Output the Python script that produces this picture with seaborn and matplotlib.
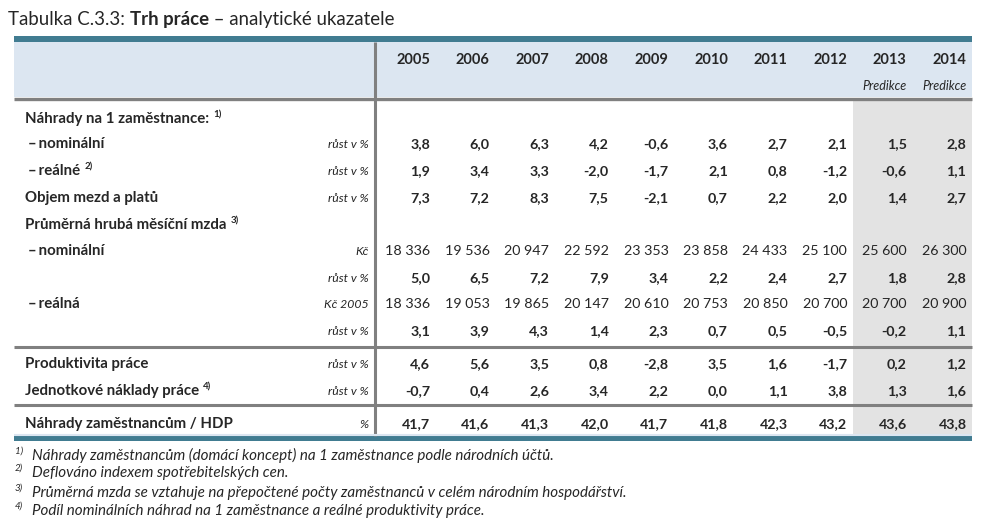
import numpy as np
import pandas as pd
import seaborn as sns
import matplotlib.pyplot as plt
from matplotlib.colors import ListedColormap

# ---- data ----
years = [2005, 2006, 2007, 2008, 2009, 2010, 2011, 2012, 2013, 2014]
is_prediction = [0, 0, 0, 0, 0, 0, 0, 0, 1, 1]

nahrady_nom = [3.8, 6.0, 6.3, 4.2, -0.6, 3.6, 2.7, 2.1, 1.5, 2.8]
nahrady_real = [1.9, 3.4, 3.3, -2.0, -1.7, 2.1, 0.8, -1.2, -0.6, 1.1]
objem_mezd = [7.3, 7.2, 8.3, 7.5, -2.1, 0.7, 2.2, 2.0, 1.4, 2.7]
mzda_nom_kc = [18336, 19536, 20947, 22592, 23353, 23858, 24433, 25100, 25600, 26300]
mzda_nom_rust = [5.0, 6.5, 7.2, 7.9, 3.4, 2.2, 2.4, 2.7, 1.8, 2.8]
mzda_real_kc = [18336, 19053, 19865, 20147, 20610, 20753, 20850, 20700, 20700, 20900]
mzda_real_rust = [3.1, 3.9, 4.3, 1.4, 2.3, 0.7, 0.5, -0.5, -0.2, 1.1]
produktivita = [4.6, 5.6, 3.5, 0.8, -2.8, 3.5, 1.6, -1.7, 0.2, 1.2]
jednotkove_naklady = [-0.7, 0.4, 2.6, 3.4, 2.2, 0.0, 1.1, 3.8, 1.3, 1.6]
nahrady_hdp = [41.7, 41.6, 41.3, 42.0, 41.7, 41.8, 42.3, 43.2, 43.6, 43.8]

# (label, superscript, indent, unit, values)
rows = [
    ("Náhrady na 1 zaměstnance:", "1)", False, "", None),
    ("–\u2009nominální", "", True, "růst v %", nahrady_nom),
    ("–\u2009reálné", "2)", True, "růst v %", nahrady_real),
    ("Objem mezd a platů", "", False, "růst v %", objem_mezd),
    ("Průměrná hrubá měsíční mzda", "3)", False, "", None),
    ("–\u2009nominální", "", True, "Kč", mzda_nom_kc),
    ("", "", True, "růst v %", mzda_nom_rust),
    ("–\u2009reálná", "", True, "Kč 2005", mzda_real_kc),
    ("", "", True, "růst v %", mzda_real_rust),
    ("Produktivita práce", "", False, "růst v %", produktivita),
    ("Jednotkové náklady práce", "4)", False, "růst v %", jednotkove_naklady),
    ("Náhrady zaměstnancům / HDP", "", False, "%", nahrady_hdp),
]

footnotes = [
    "Náhrady zaměstnancům (domácí koncept) na 1 zaměstnance podle národních účtů.",
    "Deflováno indexem spotřebitelských cen.",
    "Průměrná mzda se vztahuje na přepočtené počty zaměstnanců v celém národním hospodářství.",
    "Podíl nominálních náhrad na 1 zaměstnance a reálné produktivity práce.",
]

# ---- layout (pixels) ----
W, H = 994, 523
left, right = 14, 972
sep_x = 375
col_right = [430 + 59.6 * i for i in range(len(years))]
row_base = [123, 148, 175, 202, 229, 255, 282, 308, 335, 368, 395, 428]
teal = "#417c91"
head_fill = "#dce6f1"
line_gray = "#808080"

sns.set_theme(style="white")
plt.rcParams["font.family"] = ["Lato", "DejaVu Sans"]

fig = plt.figure(figsize=(W / 100, H / 100), dpi=100)

# prediction shading as a one-row heatmap behind the table body
body_top, body_bot = 100, 436
hax = fig.add_axes([(sep_x + 1) / W, 1 - body_bot / H, (right - sep_x - 1) / W, (body_bot - body_top) / H])
shade = pd.DataFrame([is_prediction], columns=years)
sns.heatmap(shade, ax=hax, cmap=ListedColormap(["white", "#e3e3e3"]), cbar=False,
            xticklabels=False, yticklabels=False, linewidths=0)
hax.axis("off")

ax = fig.add_axes([0, 0, 1, 1], zorder=2)
ax.set_xlim(0, W)
ax.set_ylim(H, 0)
ax.axis("off")
ax.patch.set_alpha(0)

fig.canvas.draw()
r = fig.canvas.get_renderer()

# title
t1 = ax.text(8, 25, "Tabulka C.3.3: ", fontsize=13.4, va="baseline")
x = t1.get_window_extent(r).x1
t2 = ax.text(x, 25, "Trh práce", fontsize=13.4, fontweight="bold", va="baseline")
x = t2.get_window_extent(r).x1
ax.text(x, 25, " – analytické ukazatele", fontsize=13.4, va="baseline")

# header band
ax.fill_between([left, right], 36, 42, color=teal, lw=0)
ax.fill_between([left, right], 42, 97, color=head_fill, lw=0)
ax.plot([left, right], [98.5, 98.5], color=line_gray, lw=2.4, solid_capstyle="butt")
for xr, yr, p in zip(col_right, years, is_prediction):
    ax.text(xr, 64, str(yr), ha="right", va="baseline", fontsize=10.5, fontweight="bold")
    if p:
        ax.text(xr, 90, "Predikce", ha="right", va="baseline", fontsize=9, style="italic")

# separators
ax.plot([sep_x, sep_x], [42, 436], color=line_gray, lw=2.2, solid_capstyle="butt")
ax.plot([left, right], [346.5, 346.5], color=line_gray, lw=2.2, solid_capstyle="butt")
ax.plot([left, right], [404.5, 404.5], color=line_gray, lw=2.2, solid_capstyle="butt")
ax.plot([left, right], [434.5, 434.5], color=head_fill, lw=1.5, solid_capstyle="butt")
ax.fill_between([left, right], 436, 440.5, color=teal, lw=0)


def fmt(v):
    if isinstance(v, int):
        return f"{v:,}".replace(",", " ")
    return f"{v:.1f}".replace(".", ",")


for (label, sup, indent, unit, vals), yb in zip(rows, row_base):
    if label:
        lx = 28 if indent else 25
        t = ax.text(lx, yb, label, fontsize=10.8, fontweight="bold", va="baseline")
        if sup:
            x1 = t.get_window_extent(r).x1
            ax.text(x1 + 4, yb - 6, sup, fontsize=7, fontweight="bold", va="baseline")
    if unit:
        ax.text(369, yb, unit, ha="right", va="baseline", fontsize=8.8, style="italic")
    if vals is not None:
        for xr, v in zip(col_right, vals):
            ax.text(xr, yb, fmt(v), ha="right", va="baseline", fontsize=10.3,
                    fontweight="normal" if isinstance(v, int) else "bold")

# footnotes
for i, (fy, note) in enumerate(zip([460, 477, 497, 515], footnotes)):
    ax.text(15, fy - 6, f"{i + 1})", fontsize=7, style="italic", va="baseline")
    ax.text(32, fy, note, fontsize=10.9, style="italic", va="baseline")

fig.savefig("out.png", dpi=100)
